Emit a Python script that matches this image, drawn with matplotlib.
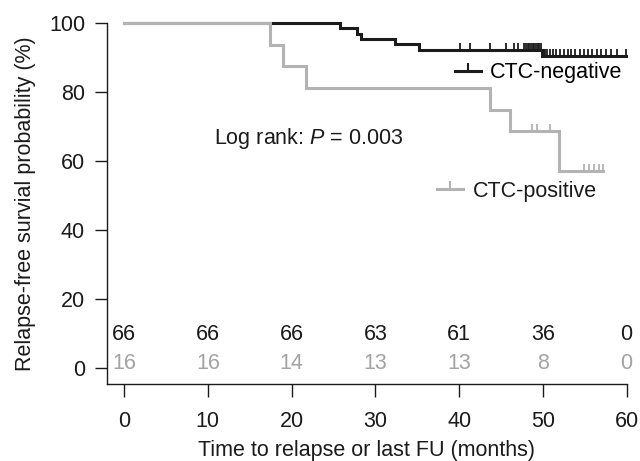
import numpy as np
import matplotlib
matplotlib.use("Agg")
import matplotlib.pyplot as plt
from matplotlib.lines import Line2D

plt.rcParams["font.family"] = ["Liberation Sans", "DejaVu Sans"]
plt.rcParams["mathtext.fontset"] = "custom"
plt.rcParams["mathtext.rm"] = "Liberation Sans"
plt.rcParams["mathtext.it"] = "Liberation Sans:italic"

# CTC-negative group (n = 66)
neg_times = [25.8, 27.8, 28.3, 32.3, 35.2, 49.9]
neg_surv = [100, 98.5, 97.0, 95.5, 94.0, 92.4, 90.6]
neg_end = 59.9
neg_censor = [40.1, 41.3, 43.7, 45.6, 46.6, 47.0, 47.8, 48.0, 48.2, 48.4,
              48.6, 48.8, 49.0, 49.2, 49.4, 49.6, 49.8,
              50.1, 50.3, 50.5, 50.8, 51.2, 51.6, 52.0, 52.5, 53.0, 53.4,
              53.9, 54.4, 54.9, 55.4, 55.9, 56.5, 57.0, 57.6, 58.2, 58.9, 59.9]

# CTC-positive group (n = 16)
pos_times = [17.4, 19.0, 21.7, 43.7, 46.1, 51.9]
pos_surv = [100, 93.8, 87.5, 81.3, 75.0, 68.8, 57.3]
pos_end = 57.2
pos_censor = [48.7, 49.3, 50.9, 54.9, 55.5, 56.1, 56.7, 57.2]

# numbers at risk
risk_t = [0, 10, 20, 30, 40, 50, 60]
risk_neg = [66, 66, 66, 63, 61, 36, 0]
risk_pos = [16, 16, 14, 13, 13, 8, 0]

black = "#1b1b1b"
grey = "#b3b3b3"
grey_txt = "#a3a3a3"
fs = 15.5

fig = plt.figure(figsize=(6.4, 4.61), dpi=100)
ax = fig.add_axes([0.1677, 0.1664, 0.8113, 0.7831])


def km(times, surv, end, censor, color):
    x = [0] + list(times) + [end]
    y = list(surv) + [surv[-1]]
    ax.step(x, y, where="post", color=color, lw=2.2, clip_on=False,
            solid_joinstyle="miter")
    idx = np.searchsorted(times, censor, side="right")
    lev = np.array(surv)[idx]
    ax.plot(censor, lev, ls="none", marker=2, ms=5, mew=1.3, color=color,
            clip_on=False)


km(neg_times, neg_surv, neg_end, neg_censor, black)
km(pos_times, pos_surv, pos_end, pos_censor, grey)

for t, a, b in zip(risk_t, risk_neg, risk_pos):
    ax.text(t, 9.9, str(a), ha="center", va="center", fontsize=fs, color=black)
    ax.text(t, 1.4, str(b), ha="center", va="center", fontsize=fs, color=grey_txt)

ax.text(10.75, 66.7, "Log rank: $P$ = 0.003", ha="left", va="center",
        fontsize=fs, color=black)

h_neg = Line2D([], [], color=black, lw=2.2, marker=2, ms=6, mew=1.5)
h_pos = Line2D([], [], color=grey, lw=2.2, marker=2, ms=6, mew=1.5)
leg1 = ax.legend([h_neg], ["CTC-negative"], loc="center left",
                 bbox_to_anchor=(0.669, 0.863), frameon=False, fontsize=fs,
                 borderpad=0, borderaxespad=0, handlelength=1.2,
                 handletextpad=0.45, numpoints=1)
ax.add_artist(leg1)
ax.legend([h_pos], ["CTC-positive"], loc="center left",
          bbox_to_anchor=(0.635, 0.535), frameon=False, fontsize=fs,
          borderpad=0, borderaxespad=0, handlelength=1.2,
          handletextpad=0.45, numpoints=1, labelcolor=black)

ax.set_xlim(-2.0, 60)
ax.set_ylim(-4.6, 100)
ax.set_xticks(risk_t)
ax.set_yticks([0, 20, 40, 60, 80, 100])
for s in ["top", "right"]:
    ax.spines[s].set_visible(False)
for s in ["left", "bottom"]:
    ax.spines[s].set_linewidth(1.0)
    ax.spines[s].set_color(black)
ax.tick_params(length=9, width=1.0, color=black, labelsize=fs,
               labelcolor=black)
ax.tick_params(axis="x", pad=10)
ax.tick_params(axis="y", pad=7)
ax.set_xlabel("Time to relapse or last FU (months)", fontsize=fs, color=black,
              labelpad=6)
ax.set_ylabel("Relapse-free survial probability (%)", fontsize=fs, color=black,
              labelpad=9)

fig.savefig("out.png", dpi=100)
